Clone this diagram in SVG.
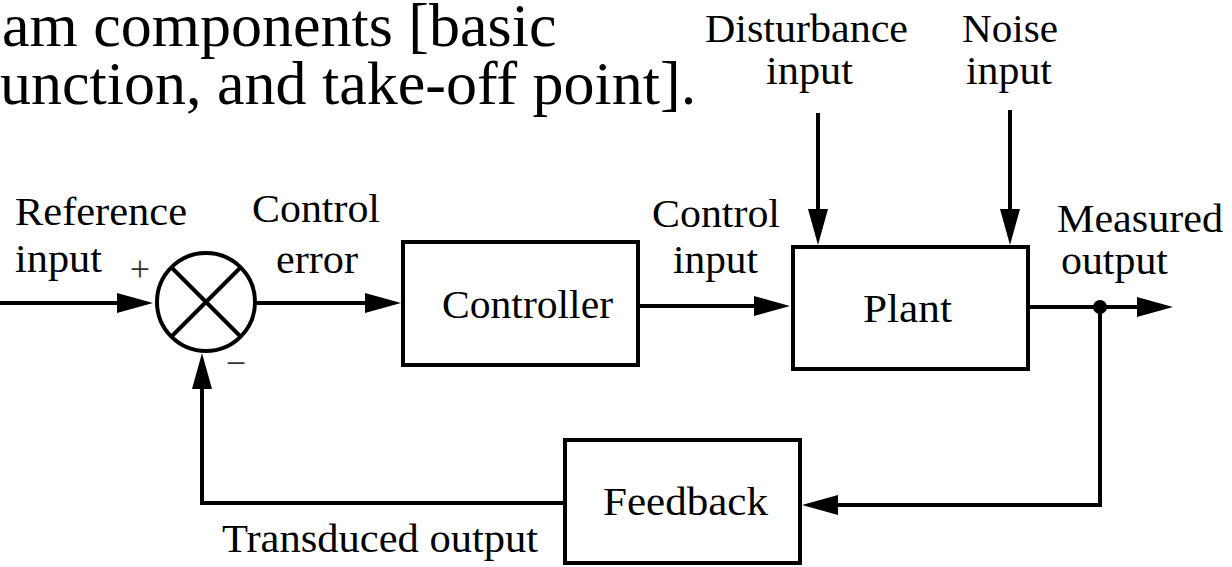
<svg xmlns="http://www.w3.org/2000/svg" width="1232" height="567" viewBox="0 0 1232 567">
  <style>
    text { font-family: 'Liberation Serif', 'Times New Roman', 'DejaVu Serif', serif; fill: #000; }
    .title { font-size: 62px; }
    .lbl { font-size: 40px; }
    .sign { font-size: 36px; fill: #333; text-anchor: middle; }
    .box { fill: #fff; stroke: #000; stroke-width: 4; }
    .wire { fill: none; stroke: #000; stroke-width: 4; }
  </style>
  <defs>
    <marker id="arrow" viewBox="0 0 36 22" markerWidth="36" markerHeight="22" refX="16" refY="11" orient="auto" markerUnits="userSpaceOnUse">
      <path d="M0,1 L36,11 L0,21 z" fill="#000"/>
    </marker>
  </defs>
  <rect width="1232" height="567" fill="#fff"/>

  <g id="title" font-family="Liberation Serif, serif">
    <text class="title" x="2" y="46">am components [basic</text>
    <text class="title" x="0" y="104">unction, and take-off point].</text>
  </g>

  <g id="connectors">
    <path class="wire" d="M0,303 H133" marker-end="url(#arrow)"/>
    <path class="wire" d="M256,303 H381" marker-end="url(#arrow)"/>
    <path class="wire" d="M638,306 H770" marker-end="url(#arrow)"/>
    <path class="wire" d="M818,113 V225" marker-end="url(#arrow)"/>
    <path class="wire" d="M1010,110 V225" marker-end="url(#arrow)"/>
    <path class="wire" d="M1028,307 H1153" marker-end="url(#arrow)"/>
    <path class="wire" d="M1100,307 V505 H822" marker-end="url(#arrow)"/>
    <path class="wire" d="M565,503 H202 V373" marker-end="url(#arrow)"/>
    <circle id="takeoff" cx="1100" cy="307" r="7" fill="#000"/>
  </g>

  <g id="junction">
    <circle cx="206" cy="302" r="49" fill="#fff" stroke="#000" stroke-width="4"/>
    <path class="wire" d="M171,267 L241,337 M241,267 L171,337"/>
    <text class="sign" x="140" y="281">+</text>
    <text class="sign" x="236" y="375">−</text>
  </g>

  <g id="controller">
    <rect class="box" x="403" y="242" width="235" height="123"/>
    <text class="lbl" x="442" y="318" textLength="171" lengthAdjust="spacingAndGlyphs">Controller</text>
  </g>

  <g id="plant">
    <rect class="box" x="793" y="247" width="235" height="122"/>
    <text class="lbl" x="863" y="322" textLength="89" lengthAdjust="spacingAndGlyphs">Plant</text>
  </g>

  <g id="feedback">
    <rect class="box" x="565" y="440" width="235" height="123"/>
    <text class="lbl" x="603" y="515" textLength="165" lengthAdjust="spacingAndGlyphs">Feedback</text>
  </g>

  <g id="labels">
    <text class="lbl" x="15" y="225" textLength="172" lengthAdjust="spacingAndGlyphs">Reference</text>
    <text class="lbl" x="15" y="272" textLength="87" lengthAdjust="spacingAndGlyphs">input</text>
    <text class="lbl" x="252" y="222" textLength="128" lengthAdjust="spacingAndGlyphs">Control</text>
    <text class="lbl" x="276" y="273" textLength="82" lengthAdjust="spacingAndGlyphs">error</text>
    <text class="lbl" x="652" y="227" textLength="128" lengthAdjust="spacingAndGlyphs">Control</text>
    <text class="lbl" x="673" y="273" textLength="85" lengthAdjust="spacingAndGlyphs">input</text>
    <text class="lbl" x="705" y="42" textLength="203" lengthAdjust="spacingAndGlyphs">Disturbance</text>
    <text class="lbl" x="766" y="84" textLength="87" lengthAdjust="spacingAndGlyphs">input</text>
    <text class="lbl" x="962" y="42" textLength="96" lengthAdjust="spacingAndGlyphs">Noise</text>
    <text class="lbl" x="966" y="84" textLength="86" lengthAdjust="spacingAndGlyphs">input</text>
    <text class="lbl" x="1057" y="232" textLength="166" lengthAdjust="spacingAndGlyphs">Measured</text>
    <text class="lbl" x="1061" y="274" textLength="107" lengthAdjust="spacingAndGlyphs">output</text>
    <text class="lbl" x="222" y="552" textLength="316" lengthAdjust="spacingAndGlyphs">Transduced output</text>
  </g>
</svg>
